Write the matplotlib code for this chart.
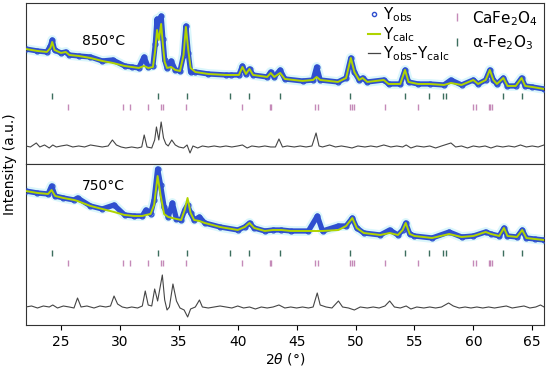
import numpy as np
import matplotlib
matplotlib.use("Agg")
import matplotlib.pyplot as plt
from matplotlib.lines import Line2D

# ---- datos (intensidad en unidades arbitrarias) ----
# 850 C : 2theta, Ycalc, Yobs
tt_850 = [22.0, 23.0, 23.8, 24.1, 24.25, 24.45, 25.0, 25.4, 25.7, 26.5, 27.5, 28.5, 29.4, 30.4,
          31.0, 31.6, 32.05, 32.4, 32.8, 33.0, 33.15, 33.3, 33.5, 33.65, 33.8, 34.0, 34.35, 34.7,
          35.1, 35.4, 35.6, 35.8, 36.0, 36.4, 37.5, 39.0, 39.4, 40.1, 40.4, 40.7, 41.0, 41.3, 42.5,
          42.8, 43.1, 43.6, 44.0, 45.5, 46.4, 46.7, 47.0, 48.5, 49.2, 49.6, 49.9, 50.3, 50.6, 51.0,
          52.4, 52.8, 53.8, 54.2, 54.5, 55.3, 56.3, 57.5, 58.1, 59.0, 60.0, 60.4, 61.05, 61.4, 61.7,
          62.0, 62.55, 62.9, 63.6, 64.1, 64.4, 65.0, 66.0]
calc_850 = [115, 113, 112, 116, 122, 114, 111, 112, 109, 108, 106, 103, 101, 98,
            97, 96, 98, 96, 97, 114, 134, 124, 140, 119, 102, 96, 97, 94,
            93, 109, 137, 114, 96, 92, 90, 89, 89, 89, 97, 90, 95, 89, 87,
            91, 87, 91, 85, 83, 84, 87, 84, 82, 86, 106, 92, 84, 86, 82,
            84, 80, 80, 94, 82, 80, 80, 79, 81, 79, 84, 80, 84, 94, 84,
            80, 86, 78, 78, 86, 78, 77, 75]
obs_850 = [115, 113, 112, 118, 124, 114, 111, 112, 109, 108, 107, 103, 104, 98,
           97, 96, 107, 97, 98, 120, 145, 130, 148, 125, 104, 96, 103, 94,
           93, 109, 138, 111, 92, 92, 90, 89, 89, 89, 98, 90, 95, 89, 87,
           92, 87, 94, 85, 83, 84, 97, 84, 82, 86, 106, 92, 84, 86, 82,
           84, 80, 80, 94, 82, 80, 80, 79, 84, 79, 84, 80, 84, 94, 84,
           80, 86, 78, 78, 86, 78, 77, 75]

# 750 C
tt_750 = [22.0, 23.0, 23.9, 24.2, 24.5, 25.2, 26.1, 26.4, 27.5, 28.5, 29.5, 30.4, 31.2, 31.9,
          32.2, 32.6, 32.9, 33.2, 33.45, 33.75, 34.1, 34.45, 34.8, 35.2, 35.5, 35.74, 36.0, 36.3,
          36.75, 37.2, 38.5, 40.0, 40.6, 41.0, 41.4, 42.3, 43.0, 43.7, 44.5, 46.0, 46.76, 47.2,
          48.55, 49.2, 49.73, 50.1, 50.7, 52.1, 52.9, 53.6, 54.0, 54.26, 54.6, 55.0, 56.5, 57.95,
          59.0, 60.0, 61.04, 61.5, 62.2, 62.6, 62.9, 63.7, 64.15, 64.5, 65.2, 66.0]
calc_750 = [134, 132, 131, 135, 129, 127, 125, 124, 119, 116, 113, 110, 109, 109,
            110, 111, 120, 149, 130, 111, 108, 107, 106, 105, 115, 127, 112, 105,
            104, 102, 98, 95, 98, 102, 97, 94, 95, 95, 94, 94, 94, 94,
            95, 99, 107, 97, 92, 90, 92, 90, 95, 102, 91, 89, 87, 91,
            88, 89, 93, 91, 89, 97, 89, 88, 95, 87, 86, 85]
obs_750 = [134, 132, 131, 139, 129, 127, 125, 127, 119, 116, 120, 110, 109, 109,
           115, 111, 125, 156, 140, 118, 108, 122, 106, 105, 115, 120, 112, 105,
           108, 102, 98, 95, 98, 102, 97, 94, 95, 95, 94, 94, 109, 94,
           99, 99, 107, 97, 92, 90, 95, 90, 95, 102, 91, 89, 87, 93,
           88, 89, 93, 91, 89, 97, 89, 88, 95, 87, 86, 85]

# curvas diferencia Yobs-Ycalc
ttd_850 = [22.0, 22.4, 22.9, 23.2, 23.6, 24.0, 24.3, 24.6, 25.0, 25.5, 26.0, 26.5, 27.0, 27.5,
           28.0, 28.5, 29.0, 29.36, 29.7, 30.1, 30.5, 31.0, 31.5, 31.85, 32.06, 32.3, 32.7,
           32.95, 33.1, 33.3, 33.5, 33.7, 33.9, 34.1, 34.4, 34.7, 35.0, 35.4, 35.7, 35.95, 36.2,
           36.6, 37.0, 37.5, 38.0, 38.5, 39.0, 39.5, 40.0, 40.4, 40.8, 41.2, 41.8, 42.3, 42.8,
           43.2, 43.5, 43.8, 44.2, 44.8, 45.3, 45.8, 46.3, 46.65, 46.9, 47.2, 47.8, 48.3, 48.8,
           49.3, 49.7, 50.2, 50.8, 51.3, 51.8, 52.4, 53.0, 53.5, 54.0, 54.3, 54.7, 55.2, 55.8,
           56.3, 56.8, 57.3, 58.1, 58.5, 59.0, 59.5, 60.0, 60.5, 61.0, 61.5, 62.0, 62.5, 63.0,
           63.5, 64.0, 64.5, 65.0, 65.5, 66.0]
diff_850 = [18, 17, 21, 17, 19, 16, 19, 17, 18, 19, 17, 18, 17, 19,
            18, 17, 18, 24, 19, 17, 16, 17, 16, 17, 29, 17, 16,
            24, 37, 24, 42, 26, 20, 18, 24, 19, 17, 16, 19, 11, 18,
            16, 18, 17, 18, 17, 18, 17, 18, 19, 16, 18, 17, 18, 17,
            17, 25, 17, 18, 17, 18, 17, 18, 31, 18, 17, 19, 17, 18,
            17, 16, 18, 17, 18, 17, 19, 17, 18, 17, 19, 16, 18, 17,
            18, 16, 18, 21, 17, 18, 16, 18, 17, 18, 16, 18, 17, 18,
            17, 19, 17, 18, 17, 19]

ttd_750 = [22.0, 22.5, 23.0, 23.5, 24.0, 24.3, 24.7, 25.2, 25.7, 26.1, 26.4, 26.7, 27.2, 27.8,
           28.3, 28.8, 29.2, 29.5, 29.8, 30.2, 30.6, 31.0, 31.5, 31.9, 32.15, 32.4, 32.7, 32.95,
           33.2, 33.6, 33.8, 34.0, 34.2, 34.5, 34.8, 35.1, 35.45, 35.75, 36.0, 36.4, 36.75, 37.0,
           37.5, 38.0, 38.5, 39.0, 39.5, 40.0, 40.5, 41.0, 41.5, 42.0, 42.5, 43.0, 43.5, 44.0,
           44.5, 45.0, 45.5, 46.0, 46.4, 46.75, 47.0, 47.5, 48.0, 48.55, 48.9, 49.4, 49.9, 50.4,
           51.0, 51.5, 52.0, 52.5, 52.9, 53.3, 53.8, 54.3, 54.7, 55.2, 55.8, 56.3, 56.8, 57.3,
           57.9, 58.3, 58.8, 59.3, 59.8, 60.3, 60.8, 61.3, 61.8, 62.3, 62.8, 63.3, 63.8, 64.3,
           64.8, 65.3, 65.7, 66.0]
diff_750 = [18, 19, 17, 19, 18, 20, 17, 19, 18, 17, 27, 18, 19, 17,
            19, 18, 19, 29, 21, 18, 17, 18, 17, 19, 34, 20, 19, 36,
            24, 50, 25, 15, 18, 41, 24, 17, 15, 8, 16, 18, 25, 18,
            17, 18, 19, 18, 17, 19, 17, 18, 16, 18, 17, 18, 20, 17,
            18, 17, 18, 17, 18, 32, 20, 18, 17, 24, 18, 17, 15, 18,
            17, 18, 17, 19, 24, 18, 17, 19, 16, 18, 17, 18, 17, 18,
            22, 19, 17, 18, 17, 18, 17, 18, 17, 18, 19, 17, 18, 19,
            17, 18, 20, 18]

# posiciones de Bragg
pos_hem = [24.2, 33.2, 35.7, 39.35, 40.95, 43.6, 49.55, 54.2, 56.25, 57.45, 57.7, 62.55, 64.1]
pos_caf = [25.55, 30.3, 30.88, 32.4, 33.45, 33.62, 35.6, 40.4, 42.7, 42.85, 46.6, 46.85,
           49.55, 49.72, 49.9, 52.5, 55.3, 59.95, 60.2, 61.3, 61.45, 61.6]

c_obs = '#2f4fcf'
c_calc = '#b0d400'
c_diff = '#454545'
c_hem = '#3d6e5e'
c_caf = '#c58ab8'

fig = plt.figure(figsize=(5.5, 3.71), dpi=100)
ax1 = fig.add_axes([0.0467, 0.558, 0.9424, 0.434])
ax2 = fig.add_axes([0.0467, 0.124, 0.9424, 0.434], sharex=ax1)

paneles = [(ax1, tt_850, calc_850, obs_850, ttd_850, diff_850, 68, 57, '850°C', 0.764),
           (ax2, tt_750, calc_750, obs_750, ttd_750, diff_750, 72, 62, '750°C', 0.863)]

for ax, tt, calc, obs, ttd, dif, yh, yc, temp, ty in paneles:
    # halo claro y banda de puntos observados
    ax.plot(tt, obs, color='#daf6fb', lw=7, solid_capstyle='round', zorder=1)
    ax.plot(tt, obs, color=c_obs, lw=3.8, zorder=2)
    ax.plot(tt, obs, 'o', mfc='none', mec=c_obs, ms=3.5, mew=0.9, zorder=3)
    ax.plot(tt, calc, color=c_calc, lw=1.4, zorder=4)
    ax.plot(ttd, dif, color=c_diff, lw=0.8, zorder=4)
    ax.scatter(pos_hem, [yh] * len(pos_hem), marker='|', s=22, color=c_hem, lw=1.0)
    ax.scatter(pos_caf, [yc] * len(pos_caf), marker='|', s=22, color=c_caf, lw=1.0)
    ax.text(0.109, ty, temp, transform=ax.transAxes, fontsize=10, va='center', ha='left')
    ax.set_ylim(0, 161)
    ax.set_yticks([])
    for s in ax.spines.values():
        s.set_color('#333333')

ax1.set_xlim(22, 66)
ax1.tick_params(axis='x', bottom=False, labelbottom=False)
ax2.set_xticks(range(25, 66, 5))
ax2.tick_params(axis='x', labelsize=10, length=3.5)
ax2.set_xlabel(r'2$\theta$ (°)', fontsize=10, labelpad=2)
fig.text(0.018, 0.558, 'Intensity (a.u.)', rotation=90, fontsize=10, va='center', ha='center')

# leyendas
h1 = [Line2D([], [], ls='none', marker='o', mfc='none', mec=c_obs, ms=3, mew=1),
      Line2D([], [], color=c_calc, lw=1.5),
      Line2D([], [], color=c_diff, lw=0.9)]
lab1 = [r'Y$_{\rm obs}$', r'Y$_{\rm calc}$', r'Y$_{\rm obs}$-Y$_{\rm calc}$']
leg1 = ax1.legend(h1, lab1, loc='upper left', bbox_to_anchor=(0.64, 1.05), frameon=False,
                  fontsize=11, handlelength=0.8, handletextpad=0.15, labelspacing=0.05,
                  borderpad=0.2)
ax1.add_artist(leg1)
h2 = [Line2D([], [], ls='none', marker='|', color=c_caf, ms=6, mew=1),
      Line2D([], [], ls='none', marker='|', color=c_hem, ms=6, mew=1)]
lab2 = [r'CaFe$_2$O$_4$', r'α-Fe$_2$O$_3$']
ax1.legend(h2, lab2, loc='upper left', bbox_to_anchor=(0.80, 1.03), frameon=False,
           fontsize=11, handlelength=0.8, handletextpad=0.6, labelspacing=0.35, borderpad=0.2)

fig.savefig('out.png', dpi=100)
